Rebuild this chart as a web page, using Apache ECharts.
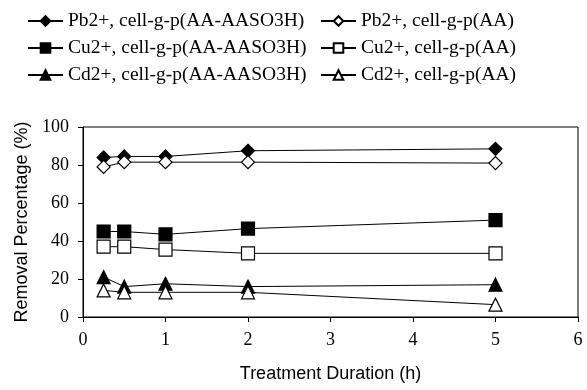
<!DOCTYPE html>
<html lang="en">
<head>
    <meta charset="UTF-8">
    <title>Removal Percentage</title>
    <style>
        html, body { margin: 0; padding: 0; background: #fff; }
        #chart { width: 587px; height: 390px; }
    </style>
</head>
<body>
<div id="chart"></div>

<script src="https://cdn.jsdelivr.net/npm/echarts@6/dist/echarts.min.js"></script>
<script>
// treatment duration (h)
const hours = [0.25, 0.5, 1, 2, 5];

// removal percentage (%)
const pbSulf = [84, 84.5, 84.5, 87.5, 88.5];
const pbAA   = [79, 81.5, 81.5, 81.5, 81];
const cuSulf = [45, 45, 43.5, 46.5, 51];
const cuAA   = [37, 37, 35.5, 33.5, 33.5];
const cdSulf = [21, 16, 17.5, 16, 17];
const cdAA   = [14, 13, 13, 13, 6.5];

const seriesNames = [
    'Pb2+, cell-g-p(AA-AASO3H)', 'Pb2+, cell-g-p(AA)',
    'Cu2+, cell-g-p(AA-AASO3H)', 'Cu2+, cell-g-p(AA)',
    'Cd2+, cell-g-p(AA-AASO3H)', 'Cd2+, cell-g-p(AA)'
];

const chart = echarts.init(document.getElementById('chart'));

function makeSeries(name, values, symbol, filled, size) {
    return {
        name: name,
        type: 'line',
        data: hours.map((h, i) => [h, values[i]]),
        symbol: symbol,
        symbolSize: size,
        lineStyle: { color: '#000', width: 1 },
        itemStyle: { color: filled ? '#000' : '#fff', borderColor: '#000', borderWidth: 1.2 },
        emphasis: { disabled: true }
    };
}

const legendText = { fontFamily: 'Liberation Serif', fontSize: 19.5, color: '#000' };

chart.setOption({
    animation: false,
    legend: [
        {
            orient: 'vertical', left: 22, top: 6, itemGap: 7, itemWidth: 35, itemHeight: 12,
            data: [seriesNames[0], seriesNames[2], seriesNames[4]],
            textStyle: legendText
        },
        {
            orient: 'vertical', left: 315, top: 6, itemGap: 7, itemWidth: 35, itemHeight: 12,
            data: [seriesNames[1], seriesNames[3], seriesNames[5]],
            textStyle: legendText
        }
    ],
    grid: { left: 83, right: 9, top: 127, bottom: 73, show: true, borderColor: '#000', borderWidth: 1 },
    xAxis: {
        type: 'value', min: 0, max: 6, interval: 1,
        name: 'Treatment Duration (h)', nameLocation: 'middle', nameGap: 48,
        nameTextStyle: { fontFamily: 'Liberation Sans', fontSize: 18, color: '#000' },
        axisLine: { lineStyle: { color: '#000' } },
        axisTick: { inside: false, length: 5, lineStyle: { color: '#000' } },
        axisLabel: { fontFamily: 'Liberation Serif', fontSize: 18, color: '#000', margin: 14 },
        splitLine: { show: false }
    },
    yAxis: {
        type: 'value', min: 0, max: 100, interval: 20,
        name: 'Removal Percentage (%)', nameLocation: 'middle', nameGap: 52,
        nameTextStyle: { fontFamily: 'Liberation Sans', fontSize: 18, color: '#000' },
        axisLine: { show: true, lineStyle: { color: '#000' } },
        axisTick: { show: true, inside: false, length: 5, lineStyle: { color: '#000' } },
        axisLabel: { fontFamily: 'Liberation Serif', fontSize: 18, color: '#000', margin: 14 },
        splitLine: { show: false }
    },
    series: [
        makeSeries(seriesNames[0], pbSulf, 'diamond', true, 13),
        makeSeries(seriesNames[1], pbAA, 'diamond', false, 13),
        makeSeries(seriesNames[2], cuSulf, 'rect', true, 13),
        makeSeries(seriesNames[3], cuAA, 'rect', false, 13),
        makeSeries(seriesNames[4], cdSulf, 'triangle', true, 13),
        makeSeries(seriesNames[5], cdAA, 'triangle', false, 13)
    ]
});
</script>
</body>
</html>
